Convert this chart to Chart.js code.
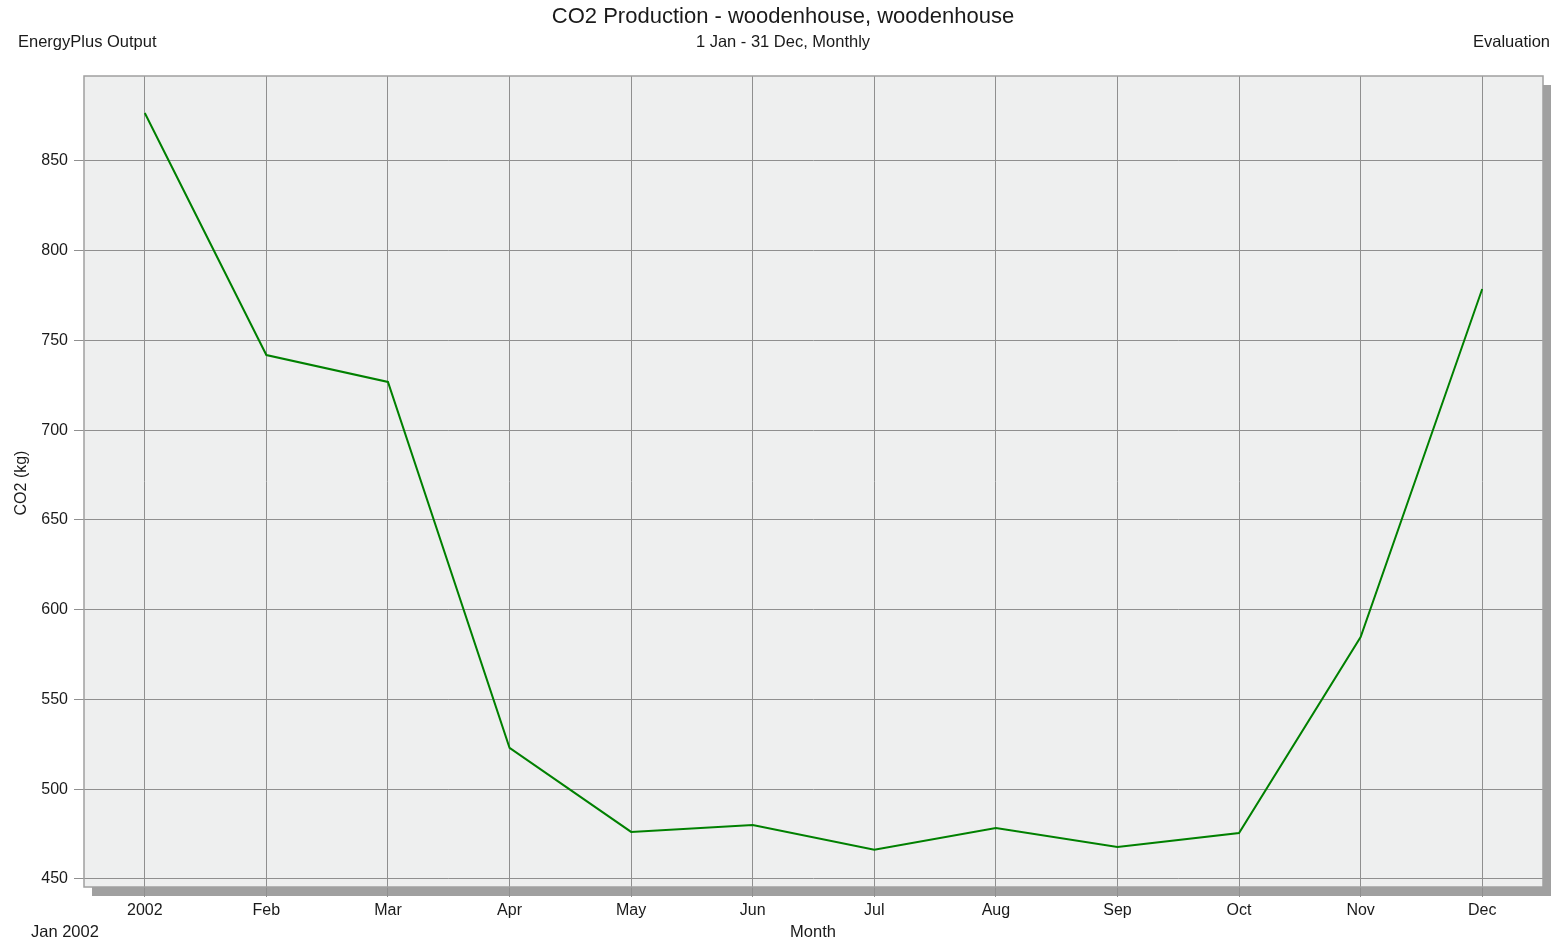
<!DOCTYPE html>
<html>
<head>
<meta charset="utf-8">
<script src="https://cdn.jsdelivr.net/npm/chart.js@4/dist/chart.umd.min.js"></script>
<style>
  body { margin: 0; background: #fff; }
  #wrap { width: 1557px; height: 945px; }
</style>
</head>
<body>
<div id="wrap"><canvas id="chart" width="1557" height="945"></canvas></div>
<script>
// DATA
const months = ["2002", "Feb", "Mar", "Apr", "May", "Jun", "Jul", "Aug", "Sep", "Oct", "Nov", "Dec"];
const co2 = [876.7, 741.9, 726.9, 523, 476.2, 480.1, 466.2, 478.4, 467.8, 475.6, 584.8, 778.7];
const yTicks = [450, 500, 550, 600, 650, 700, 750, 800, 850];

const FONT = "'Liberation Sans', Arial, sans-serif";
const GRID = "#8f8f8f";

// PLOT BACKGROUND, SHADOW, BORDER AND HEADER TEXT
const decor = {
  id: "decor",
  beforeDraw(chart) {
    const { ctx, chartArea: a } = chart;
    ctx.save();
    ctx.fillStyle = "#a0a0a0";
    ctx.fillRect(a.left + 8, a.bottom, a.right - a.left, 9);
    ctx.fillRect(a.right, a.top + 9, 8, a.bottom - a.top);
    ctx.fillStyle = "#eeefef";
    ctx.fillRect(a.left, a.top, a.right - a.left, a.bottom - a.top);
    ctx.restore();
  },
  afterDraw(chart) {
    const { ctx, chartArea: a } = chart;
    ctx.save();
    ctx.strokeStyle = "#a0a0a0";
    ctx.lineWidth = 1.5;
    ctx.strokeRect(a.left, a.top, a.right - a.left, a.bottom - a.top);

    ctx.fillStyle = "#1a1a1a";
    ctx.textBaseline = "middle";
    ctx.font = "22px " + FONT;
    ctx.textAlign = "center";
    ctx.fillText("CO2 Production - woodenhouse, woodenhouse", 783, 17);
    ctx.font = "16.5px " + FONT;
    ctx.fillText("1 Jan - 31 Dec, Monthly", 783, 42);
    ctx.fillText("Month", 813, 932);
    ctx.textAlign = "left";
    ctx.fillText("EnergyPlus Output", 18, 42);
    ctx.fillText("Jan 2002", 31, 932);
    ctx.textAlign = "right";
    ctx.fillText("Evaluation", 1550, 42);

    ctx.translate(22, 483);
    ctx.rotate(-Math.PI / 2);
    ctx.textAlign = "center";
    ctx.font = "16px " + FONT;
    ctx.fillText("CO2 (kg)", 0, 0);
    ctx.restore();
  }
};

new Chart(document.getElementById("chart"), {
  type: "line",
  data: {
    labels: months,
    datasets: [{
      data: co2,
      borderColor: "#008000",
      borderWidth: 2,
      pointRadius: 0,
      tension: 0,
      fill: false
    }]
  },
  options: {
    responsive: false,
    animation: false,
    layout: { padding: { top: 76, right: 14, left: 0, bottom: 0 } },
    plugins: { legend: { display: false }, tooltip: { enabled: false } },
    scales: {
      x: {
        offset: true,
        grid: { color: GRID, lineWidth: 1, tickLength: 10, offset: false },
        border: { display: false },
        ticks: { color: "#1a1a1a", font: { family: FONT, size: 16 }, padding: 4, maxRotation: 0 },
        afterFit(scale) { scale.height = 58; }
      },
      y: {
        min: 445.5,
        max: 897.35,
        grid: { color: GRID, lineWidth: 1, tickLength: 10 },
        border: { display: false },
        ticks: { color: "#1a1a1a", font: { family: FONT, size: 16 }, padding: 6 },
        afterBuildTicks(scale) { scale.ticks = yTicks.map(v => ({ value: v })); },
        afterFit(scale) { scale.width = 84; }
      }
    }
  },
  plugins: [decor]
});
</script>
</body>
</html>
